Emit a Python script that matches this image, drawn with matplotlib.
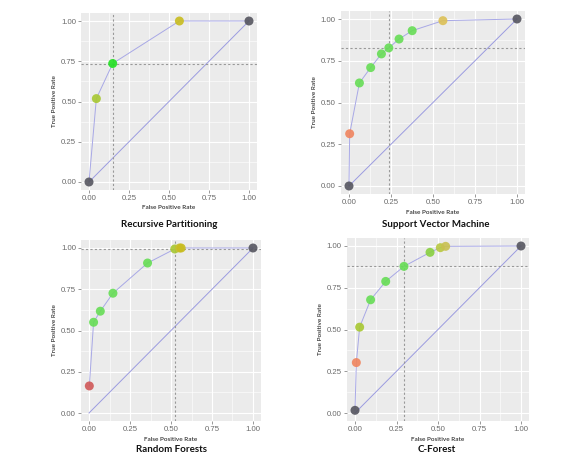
import matplotlib.pyplot as plt
from matplotlib.ticker import MultipleLocator

# ROC points
rp_fpr = [0.0, 0.046, 0.148, 0.565, 1.0]
rp_tpr = [0.0, 0.518, 0.736, 1.0, 1.0]
rp_col = ['#55555f', '#a8c832', '#22e022', '#c8bc1e', '#55555f']
rp_cut = (0.148, 0.733)

svm_fpr = [0.0, 0.004, 0.062, 0.129, 0.193, 0.237, 0.298, 0.376, 0.559, 1.0]
svm_tpr = [0.0, 0.313, 0.617, 0.709, 0.791, 0.827, 0.880, 0.930, 0.990, 1.0]
svm_col = ['#55555f', '#f0845e', '#66dd55', '#66dd55', '#66dd55', '#66dd55',
           '#66dd55', '#66dd55', '#dcc055', '#55555f']
svm_cut = (0.237, 0.827)

rf_fpr = [0.002, 0.028, 0.069, 0.146, 0.357, 0.523, 0.552, 0.562, 1.0]
rf_tpr = [0.164, 0.550, 0.617, 0.726, 0.909, 0.994, 1.0, 1.0, 1.0]
rf_col = ['#d05858', '#66dd55', '#66dd55', '#66dd55', '#66dd55', '#a8c832',
          '#c8c030', '#c8bc1e', '#55555f']
rf_cut = (0.527, 0.992)

cf_fpr = [0.0, 0.008, 0.028, 0.094, 0.185, 0.295, 0.452, 0.514, 0.546, 1.0]
cf_tpr = [0.016, 0.302, 0.514, 0.678, 0.788, 0.878, 0.962, 0.990, 0.998, 1.0]
cf_col = ['#55555f', '#f0845e', '#a8c832', '#66dd55', '#66dd55', '#66dd55',
          '#88d040', '#b8c840', '#c8c050', '#55555f']
cf_cut = (0.297, 0.880)

titles = ['Recursive Partitioning', 'Support Vector Machine', 'Random Forests', 'C-Forest']
ticks = [0, 0.25, 0.5, 0.75, 1.0]
tick_labels = ['0.00', '0.25', '0.50', '0.75', '1.00']

panels = [
    (rp_fpr, rp_tpr, rp_col, rp_cut),
    (svm_fpr, svm_tpr, svm_col, svm_cut),
    (rf_fpr, rf_tpr, rf_col, rf_cut),
    (cf_fpr, cf_tpr, cf_col, cf_cut),
]

# pixel position of data 0 and 1 on each axis: (x0, x1, y0, y1)
pix = [(89, 249, 182, 21), (349, 517, 186, 19), (89, 253, 413, 248), (355, 521, 413, 246)]
title_pos = [(169, 224), (436, 224), (171, 450), (437, 450)]

W, H = 587, 467
fig = plt.figure(figsize=(W / 100, H / 100), dpi=100)

for i, (fpr, tpr, col, cut) in enumerate(panels):
    x0, x1, y0, y1 = pix[i]
    sx = x1 - x0
    sy = y0 - y1
    left = x0 - 0.05 * sx
    top = y1 - 0.05 * sy
    ax = fig.add_axes([left / W, 1 - (top + 1.1 * sy) / H, 1.1 * sx / W, 1.1 * sy / H])
    ax.set_facecolor('#ebebeb')
    for s in ax.spines.values():
        s.set_visible(False)
    ax.set_xlim(-0.05, 1.05)
    ax.set_ylim(-0.05, 1.05)
    ax.xaxis.set_minor_locator(MultipleLocator(0.125))
    ax.yaxis.set_minor_locator(MultipleLocator(0.125))
    ax.grid(True, which='major', color='white', lw=0.8)
    ax.grid(True, which='minor', color='white', lw=0.4)
    ax.set_axisbelow(True)
    ax.set_xticks(ticks)
    ax.set_yticks(ticks)
    ax.set_xticklabels(tick_labels, family='Liberation Sans')
    ax.set_yticklabels(tick_labels, family='Liberation Sans')
    ax.tick_params(which='major', labelsize=5.6, colors='#888888', length=2, width=0.6, pad=1.5)
    ax.tick_params(which='minor', length=0)
    for lab in ax.get_xticklabels() + ax.get_yticklabels():
        lab.set_color('#6a6a6a')
    ax.set_xlabel('False Positive Rate', fontsize=4.6, color='#333333', labelpad=2.5,
                  family='Lato', fontweight='semibold')
    ax.set_ylabel('True Positive Rate', fontsize=4.6, color='#333333', labelpad=3,
                  family='Lato', fontweight='semibold')

    ax.plot([0, 1], [0, 1], color='#9b9be0', lw=0.7, zorder=2)
    ax.plot(fpr, tpr, color='#a8a8e6', lw=0.7, zorder=2)
    ax.axvline(cut[0], color='#999999', lw=0.8, ls=(0, (2, 2)), zorder=2)
    ax.axhline(cut[1], color='#999999', lw=0.8, ls=(0, (2, 2)), zorder=2)
    ax.scatter(fpr, tpr, s=42, c=col, alpha=0.9, edgecolors='none', zorder=3)

    tx, ty = title_pos[i]
    fig.text(tx / W, 1 - ty / H, titles[i], fontsize=7, fontweight='bold',
             family='Lato', ha='center', va='center', color='#111111')

fig.savefig('out.png', dpi=100)
